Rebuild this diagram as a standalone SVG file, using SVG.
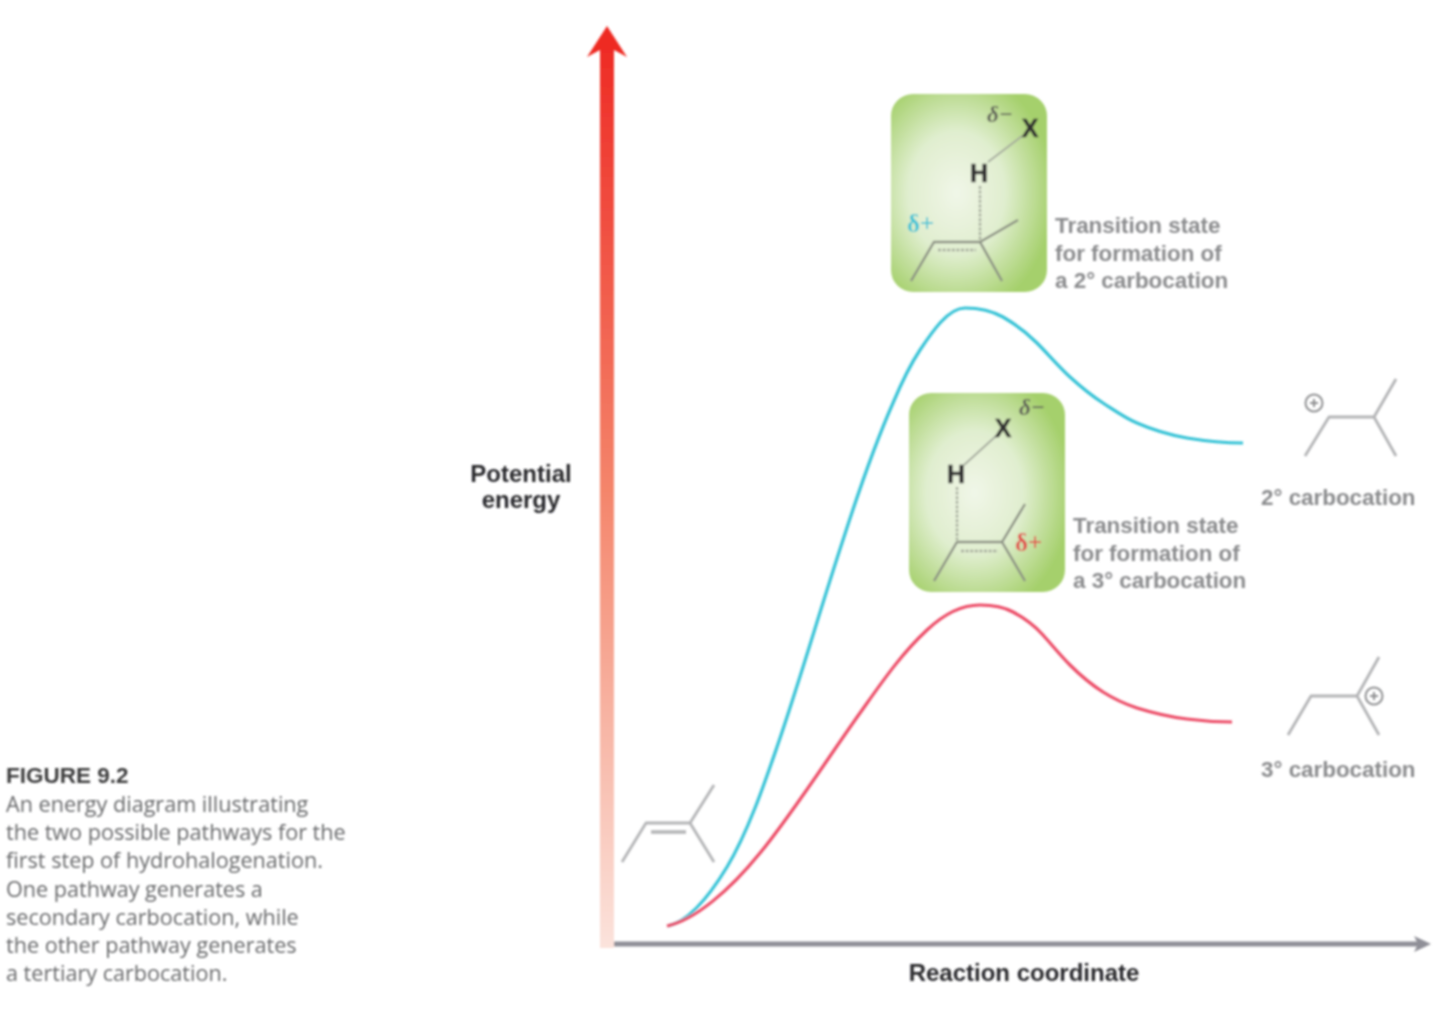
<svg xmlns="http://www.w3.org/2000/svg" width="1440" height="1010" viewBox="0 0 1440 1010">
<defs>
<linearGradient id="axis" x1="0" y1="0" x2="0" y2="1"><stop offset="0" stop-color="#ee2a24"/><stop offset=".5" stop-color="#f4866c"/><stop offset="1" stop-color="#fbe3dc"/></linearGradient>
<radialGradient id="green" cx=".42" cy=".5" r=".62"><stop offset="0" stop-color="#f0f6e8"/><stop offset=".5" stop-color="#e0eecf"/><stop offset="1" stop-color="#a5d06c"/></radialGradient>
<filter id="soft" x="-5%" y="-5%" width="110%" height="110%"><feGaussianBlur stdDeviation="0.9"/></filter>
</defs>
<style>
text{font-family:"Liberation Sans",Arial,sans-serif}
.lab{font-size:22.4px;font-weight:700;fill:#8a8b8d}
.axl{font-size:24px;font-weight:700;fill:#2b2b2d;text-anchor:middle}
.cap{font-size:21.6px;fill:#68696b;font-family:"Open Sans","Liberation Sans",sans-serif}
.atom{font-size:25px;font-weight:700;fill:#333;text-anchor:middle;stroke:#333;stroke-width:.5}
.dm{font-size:23px;font-family:"Liberation Serif",serif;font-style:italic;font-weight:700;fill:#5f6058}
.dp{font-size:25px;font-weight:700;font-family:"Liberation Serif",serif}
.bond{fill:none;stroke:#b3b4b6;stroke-width:2.8;stroke-linejoin:round}
.ts{fill:none;stroke:#8b9083;stroke-width:2.4}
.dash{fill:none;stroke:#a3a99a;stroke-width:2.4;stroke-dasharray:3 1.6}
.thin{fill:none;stroke:#a3a89b;stroke-width:1.8}
.chg{fill:none;stroke:#8f9092;stroke-width:2}
</style>
<g filter="url(#soft)">
<g id="connectors">
<rect id="y-axis" x="600" y="40" width="14" height="908" fill="url(#axis)"/>
<polygon points="607,26 627,57 614,50 600,50 587,57" fill="#ee2a24"/>
<path d="M614 944H1420" stroke="#8f8f97" stroke-width="5" fill="none"/>
<polygon points="1431,944 1414,936 1418,944 1414,952" fill="#8f8f97"/>
<path id="curve-2" d="M668 926C690 921 710 895 727 867C748 832 765 782 777 747C800 680 820 610 843 540C860 487 878 437 893 403C901 384 910 365 920 350C932 332 948 308 965 308C983 308 994 312 1003 317C1015 324 1026 332 1037 343C1048 354 1059 367 1070 377C1081 387 1092 396 1103 403C1114 410 1125 418 1137 423C1153 430 1170 435 1187 438C1205 441 1225 443 1243 443" fill="none" stroke="#35c2d6" stroke-width="3.2"/>
<path id="curve-3" d="M667 926C695 920 730 890 760 853C790 817 830 755 860 713C880 685 900 655 927 630C945 613 962 605 980 605C995 605 1004 607 1013 612C1024 618 1034 625 1043 635C1052 645 1061 656 1070 665C1081 676 1092 685 1103 692C1114 699 1125 704 1137 708C1153 713 1170 717 1187 719C1202 721 1217 722 1232 722" fill="none" stroke="#ec4b66" stroke-width="3.2"/>
</g>
<g id="y-label"><text class="axl" x="521" y="482">Potential</text><text class="axl" x="521" y="508">energy</text></g>
<g id="x-label"><text class="axl" x="1024" y="981">Reaction coordinate</text></g>
<g id="caption">
<text x="6" y="783" font-size="22.5" font-weight="700" fill="#3c3c3e">FIGURE 9.2</text>
<text class="cap" x="6" y="812">An energy diagram illustrating</text>
<text class="cap" x="6" y="840">the two possible pathways for the</text>
<text class="cap" x="6" y="868">first step of hydrohalogenation.</text>
<text class="cap" x="6" y="897">One pathway generates a</text>
<text class="cap" x="6" y="925">secondary carbocation, while</text>
<text class="cap" x="6" y="953">the other pathway generates</text>
<text class="cap" x="6" y="981">a tertiary carbocation.</text>
</g>
<g id="alkene">
<path class="bond" d="M622 862L646 823H690L714 785M690 823L714 862"/>
<path class="bond" d="M651 832H686" style="stroke-width:3.4"/>
</g>
<g id="ts-secondary">
<rect x="891" y="94" width="156" height="198" rx="22" fill="url(#green)"/>
<path class="ts" d="M911 281L934 242H980L1002 281M980 242L1018 220"/>
<path class="dash" d="M938 250H976"/>
<path class="dash" d="M980 186V240"/>
<path class="thin" d="M988 162L1022 136"/>
<text class="atom" x="979" y="182">H</text>
<text class="atom" x="1030" y="137">X</text>
<text class="dm" x="987" y="122">δ−</text>
<text class="dp" x="907" y="232" fill="#45c4d4">δ+</text>
<text class="lab"><tspan x="1055" y="233">Transition state</tspan><tspan x="1055" y="261">for formation of</tspan><tspan x="1055" y="288">a 2° carbocation</tspan></text>
</g>
<g id="ts-tertiary">
<rect x="909" y="393" width="156" height="199" rx="22" fill="url(#green)"/>
<path class="ts" d="M934 581L957 542H1002L1025 504M1002 542L1025 581"/>
<path class="dash" d="M961 551H998"/>
<path class="dash" d="M957 487V540"/>
<path class="thin" d="M964 465L996 436"/>
<text class="atom" x="956" y="483">H</text>
<text class="atom" x="1003" y="437">X</text>
<text class="dm" x="1019" y="415">δ−</text>
<text class="dp" x="1015" y="551" fill="#e0524f">δ+</text>
<text class="lab"><tspan x="1073" y="533">Transition state</tspan><tspan x="1073" y="561">for formation of</tspan><tspan x="1073" y="588">a 3° carbocation</tspan></text>
</g>
<g id="carbocation-2">
<path class="bond" d="M1305 456L1329 417H1374L1396 379M1374 417L1396 456"/>
<circle class="chg" cx="1314" cy="403" r="8.5"/><path class="chg" d="M1310 403H1318M1314 399V407"/>
<text class="lab" x="1261" y="505">2° carbocation</text>
</g>
<g id="carbocation-3">
<path class="bond" d="M1288 735L1311 696H1357L1379 657M1357 696L1379 735"/>
<circle class="chg" cx="1374" cy="696" r="8.5"/><path class="chg" d="M1370 696H1378M1374 692V700"/>
<text class="lab" x="1261" y="777">3° carbocation</text>
</g>
</g>
</svg>
